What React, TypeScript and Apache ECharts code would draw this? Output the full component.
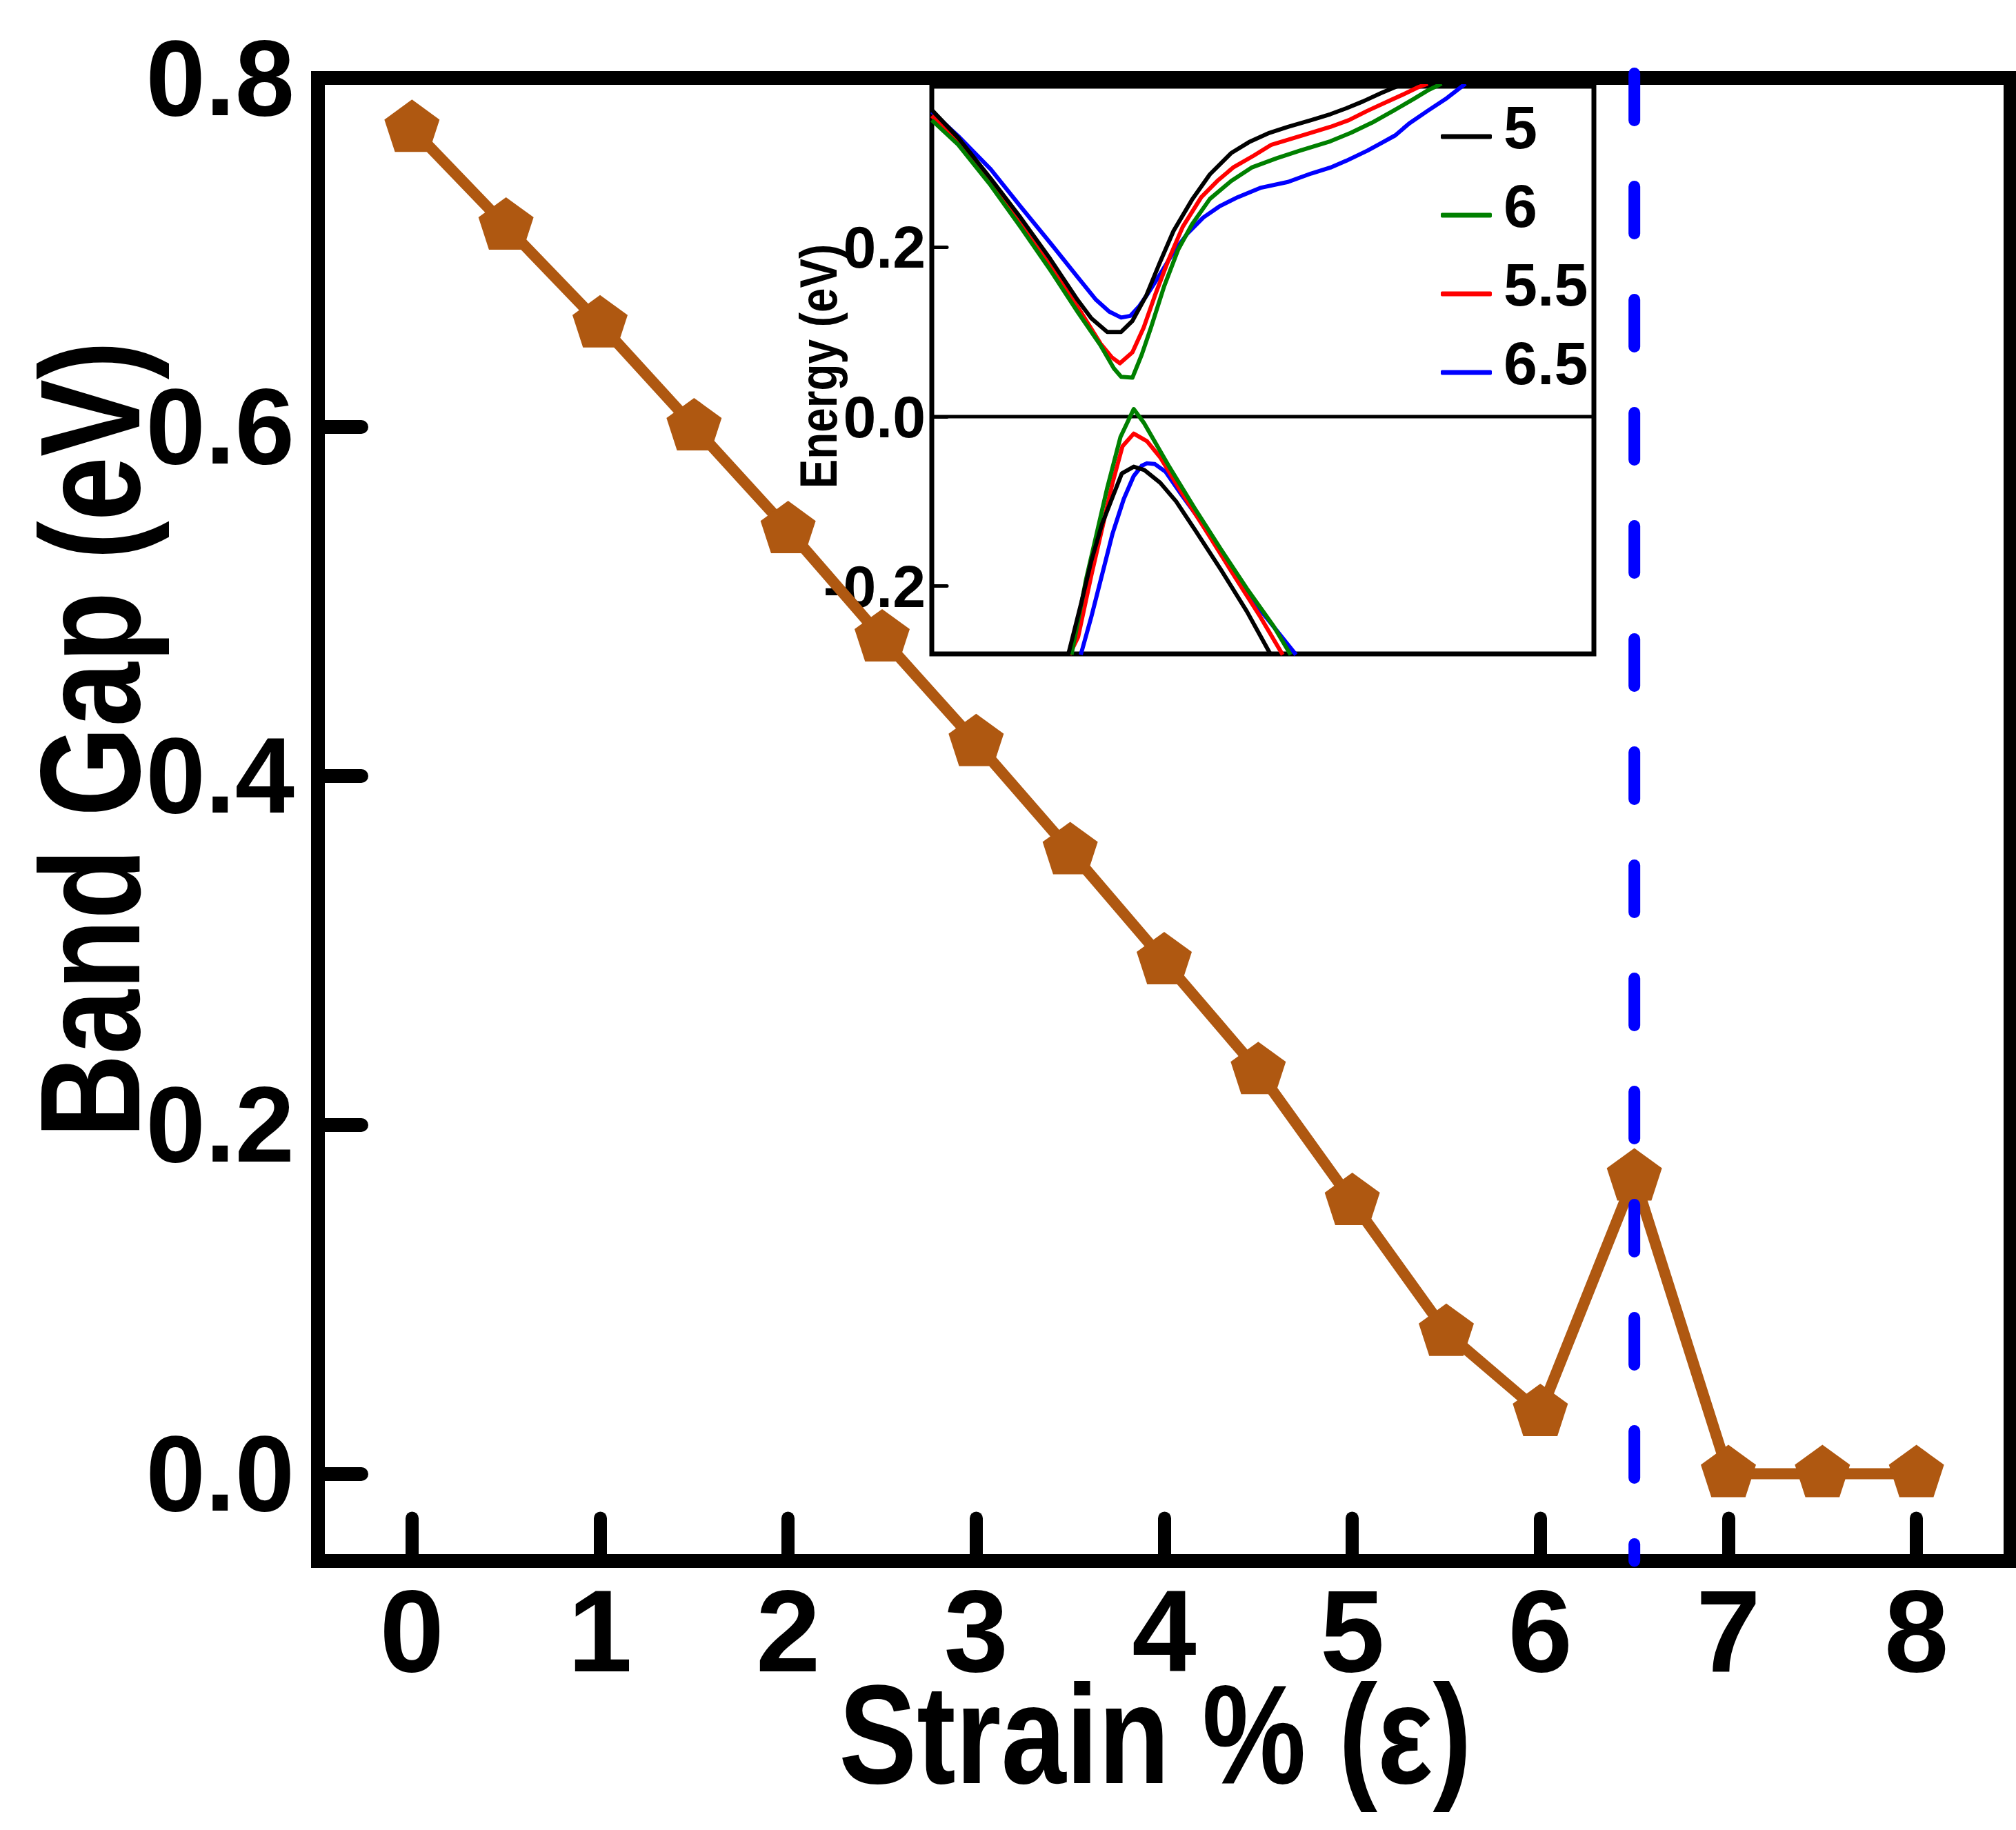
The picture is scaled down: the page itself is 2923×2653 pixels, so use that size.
import React, { useEffect, useRef } from 'react';
import * as echarts from 'echarts';

// ---------- main plot data ----------
const strainValues = [0, 0.5, 1, 1.5, 2, 2.5, 3, 3.5, 4, 4.5, 5, 5.5, 6, 6.5, 7, 7.5, 8];
const bandGapValues = [0.771, 0.715, 0.659, 0.6, 0.541, 0.479, 0.419, 0.357, 0.294, 0.231, 0.156, 0.081, 0.035, 0.17, 0, 0, 0];
const xTickValues = [0, 1, 2, 3, 4, 5, 6, 7, 8];
const yTickValues = [0, 0.2, 0.4, 0.6, 0.8];
const criticalStrain = 6.5;
const xRange = [-0.5, 8.5];
const yRange = [-0.05, 0.8];
const xTitle = 'Strain % (ε)';
const yTitle = 'Band Gap (eV)';

// ---------- inset (band structure near the Fermi level) ----------
const insetTickValues = [-0.2, 0, 0.2];
const insetYRange = [-0.28, 0.39];
const insetKRange = [0, 100];
const insetLegend = ['5', '6', '5.5', '6.5'];
const insetYTitle = 'Energy (eV)';

const cb5 = [[0, 0.362], [4.0, 0.329], [8.9, 0.281], [13.4, 0.235], [17.9, 0.186], [22.0, 0.138], [24.1, 0.116], [26.5, 0.1], [28.6, 0.1], [30.3, 0.113], [32.4, 0.143], [34.4, 0.181], [36.5, 0.219], [39.3, 0.256], [42.0, 0.286], [45.2, 0.311], [47.9, 0.324], [51.0, 0.335], [53.8, 0.342], [57.3, 0.35], [60.2, 0.357], [62.6, 0.364], [65.1, 0.372], [67.9, 0.382], [70.0, 0.389], [71.4, 0.393]];
const vb5 = [[20.6, -0.281], [22.6, -0.219], [24.1, -0.17], [25.7, -0.127], [27.3, -0.095], [28.7, -0.067], [30.5, -0.059], [32.1, -0.063], [34.5, -0.078], [36.9, -0.1], [39.7, -0.133], [43.7, -0.181], [47.6, -0.23], [51.2, -0.281]];

const cb55 = [[0, 0.355], [4.0, 0.324], [8.9, 0.275], [13.4, 0.227], [17.9, 0.178], [22.0, 0.13], [25.5, 0.086], [27.2, 0.07], [28.4, 0.063], [30.3, 0.076], [32.0, 0.105], [33.7, 0.143], [35.8, 0.186], [37.9, 0.224], [40.7, 0.259], [43.1, 0.278], [45.5, 0.294], [48.6, 0.308], [51.3, 0.321], [55.6, 0.331], [60.2, 0.342], [63.0, 0.35], [65.8, 0.361], [68.6, 0.371], [71.4, 0.381], [73.5, 0.389], [74.9, 0.393]];
const vb55 = [[20.8, -0.281], [22.1, -0.26], [24.1, -0.187], [25.7, -0.133], [27.3, -0.078], [28.8, -0.035], [30.5, -0.02], [32.5, -0.029], [34.5, -0.048], [37.7, -0.089], [41.7, -0.138], [45.6, -0.187], [49.6, -0.236], [53.0, -0.281]];

const cb6 = [[0, 0.35], [4.0, 0.321], [8.9, 0.273], [13.4, 0.224], [17.9, 0.173], [22.0, 0.124], [25.5, 0.084], [27.5, 0.057], [28.6, 0.047], [30.3, 0.046], [31.7, 0.073], [33.1, 0.105], [35.1, 0.154], [37.2, 0.197], [39.3, 0.227], [42.0, 0.257], [45.2, 0.278], [48.3, 0.294], [52.1, 0.305], [55.6, 0.314], [60.2, 0.325], [63.3, 0.335], [66.5, 0.347], [69.7, 0.361], [72.8, 0.375], [74.9, 0.385], [77.0, 0.393]];
const vb6 = [[21.1, -0.281], [23.3, -0.192], [24.9, -0.138], [26.5, -0.084], [28.5, -0.024], [30.5, 0.009], [32.1, -0.008], [35.7, -0.057], [39.7, -0.108], [43.7, -0.157], [47.6, -0.203], [51.6, -0.247], [54.2, -0.281]];

const cb65 = [[0, 0.36], [4.0, 0.331], [8.9, 0.292], [13.4, 0.248], [17.9, 0.205], [22.0, 0.165], [24.8, 0.138], [26.8, 0.124], [28.6, 0.117], [30.0, 0.119], [31.3, 0.13], [32.7, 0.146], [34.4, 0.167], [36.5, 0.194], [38.6, 0.216], [41.0, 0.235], [43.4, 0.248], [46.2, 0.259], [49.6, 0.27], [53.8, 0.277], [57.3, 0.287], [60.2, 0.294], [62.6, 0.302], [65.8, 0.314], [67.9, 0.323], [70.0, 0.332], [72.1, 0.346], [74.9, 0.361], [77.8, 0.376], [80.6, 0.393]];
const vb65 = [[22.5, -0.281], [24.1, -0.236], [25.7, -0.187], [27.3, -0.138], [29.0, -0.097], [30.5, -0.07], [31.7, -0.058], [32.5, -0.055], [33.7, -0.056], [35.3, -0.065], [37.7, -0.092], [41.7, -0.135], [45.6, -0.181], [49.6, -0.228], [55.0, -0.281]];

const insetBands = [
  { name: '6.5', color: '#0000FF', cb: cb65, vb: vb65 },
  { name: '5.5', color: '#FF0000', cb: cb55, vb: vb55 },
  { name: '6', color: '#008000', cb: cb6, vb: vb6 },
  { name: '5', color: '#000000', cb: cb5, vb: vb5 },
];

const FONT = '"Liberation Sans", Arial, sans-serif';
const BROWN = '#AF5811';
const PENTAGON = 'path://M0,-1L0.951,-0.309L0.588,0.809L-0.588,0.809L-0.951,-0.309Z';

function titleText(text: string, x: number, y: number, size: number, rotate: boolean, sx: number) {
  return {
    type: 'text',
    x,
    y,
    rotation: rotate ? Math.PI / 2 : 0,
    scaleX: sx,
    silent: true,
    z: 10,
    style: {
      text,
      fontFamily: FONT,
      fontWeight: 'bold',
      fontSize: size,
      fill: '#000',
      align: 'center',
      verticalAlign: 'middle',
    },
  };
}

function buildOption(): any {
  const bandSeries: any[] = [];
  insetBands.forEach((b) => {
    [b.cb, b.vb].forEach((d) => {
      bandSeries.push({
        type: 'line',
        name: b.name,
        xAxisIndex: 1,
        yAxisIndex: 1,
        data: d,
        symbol: 'none',
        smooth: false,
        lineStyle: { color: b.color, width: 6, join: 'round' },
        itemStyle: { color: b.color },
        z: 3,
        silent: true,
      });
    });
  });

  return {
    animation: false,
    backgroundColor: '#ffffff',
    grid: [
      {
        left: 461,
        top: 113,
        right: 8,
        bottom: 390,
        show: true,
        borderColor: '#000',
        borderWidth: 20,
        backgroundColor: 'transparent',
        containLabel: false,
        outerBoundsMode: 'none',
      },
      {
        left: 1351,
        top: 125,
        width: 960,
        height: 823,
        show: true,
        borderColor: '#000',
        borderWidth: 7,
        backgroundColor: '#ffffff',
        containLabel: false,
        outerBoundsMode: 'none',
      },
    ],
    xAxis: [
      {
        type: 'value',
        gridIndex: 0,
        min: xRange[0],
        max: xRange[1],
        axisLine: { show: false, onZero: false },
        splitLine: { show: false },
        axisTick: {
          show: true,
          inside: true,
          length: 62,
          customValues: xTickValues,
          lineStyle: { color: '#000', width: 19, cap: 'round' },
        },
        axisLabel: {
          show: true,
          customValues: xTickValues,
          margin: 18,
          fontFamily: FONT,
          fontWeight: 'bold',
          fontSize: 168,
          color: '#000',
          formatter: (v: number) => String(v),
        },
      },
      {
        type: 'value',
        gridIndex: 1,
        min: insetKRange[0],
        max: insetKRange[1],
        axisLine: { show: false, onZero: false },
        axisTick: { show: false },
        axisLabel: { show: false },
        splitLine: { show: false },
      },
    ],
    yAxis: [
      {
        type: 'value',
        gridIndex: 0,
        min: yRange[0],
        max: yRange[1],
        axisLine: { show: false, onZero: false },
        splitLine: { show: false },
        axisTick: {
          show: true,
          inside: true,
          length: 63,
          customValues: yTickValues,
          lineStyle: { color: '#000', width: 20, cap: 'round' },
        },
        axisLabel: {
          show: true,
          customValues: yTickValues,
          margin: 34,
          fontFamily: FONT,
          fontWeight: 'bold',
          fontSize: 155,
          color: '#000',
          formatter: (v: number) => v.toFixed(1),
        },
      },
      {
        type: 'value',
        gridIndex: 1,
        min: insetYRange[0],
        max: insetYRange[1],
        axisLine: { show: false, onZero: false },
        splitLine: { show: false },
        axisTick: {
          show: true,
          inside: true,
          length: 22,
          customValues: insetTickValues,
          lineStyle: { color: '#000', width: 5, cap: 'round' },
        },
        axisLabel: {
          show: true,
          customValues: insetTickValues,
          margin: 9,
          fontFamily: FONT,
          fontWeight: 'bold',
          fontSize: 86,
          color: '#000',
          formatter: (v: number) => v.toFixed(1),
        },
      },
    ],
    legend: {
      show: true,
      data: insetLegend,
      orient: 'vertical',
      left: 2089,
      top: 140,
      padding: 0,
      itemWidth: 74,
      itemHeight: 7,
      itemGap: -2,
      icon: 'roundRect',
      selectedMode: false,
      formatter: '{t|{name}}',
      textStyle: {
        rich: {
          t: {
            fontFamily: FONT,
            fontWeight: 'bold',
            fontSize: 88,
            color: '#000',
            lineHeight: 76,
            padding: [0, 0, 28, 12],
          },
        },
      },
    },
    graphic: [
      titleText(yTitle, 130, 1072, 207, true, 0.81),
      titleText(xTitle, 1675, 2514, 204, false, 0.83),
      titleText(insetYTitle, 1186, 531, 76, true, 0.84),
    ],
    series: [
      {
        type: 'line',
        name: 'Band Gap',
        xAxisIndex: 0,
        yAxisIndex: 0,
        data: strainValues.map((x, i) => [x, bandGapValues[i]]),
        symbol: PENTAGON,
        symbolSize: [80, 76],
        symbolOffset: [0, -4],
        showAllSymbol: true,
        lineStyle: { color: BROWN, width: 16 },
        itemStyle: { color: BROWN },
        z: 2,
        silent: true,
      },
      {
        type: 'line',
        name: 'critical',
        xAxisIndex: 0,
        yAxisIndex: 0,
        data: [[criticalStrain, yRange[1] + 0.0026], [criticalStrain, yRange[0]]],
        symbol: 'none',
        clip: false,
        lineStyle: { color: '#0000FF', width: 17, type: [68, 96], cap: 'round' },
        z: 4,
        silent: true,
      },
      {
        type: 'line',
        name: 'EF',
        xAxisIndex: 1,
        yAxisIndex: 1,
        data: [[insetKRange[0], 0], [insetKRange[1], 0]],
        symbol: 'none',
        lineStyle: { color: '#000', width: 5 },
        z: 2,
        silent: true,
      },
      ...bandSeries,
    ],
  };
}

export default function App() {
  const ref = useRef<HTMLDivElement>(null);
  useEffect(() => {
    if (!ref.current) return;
    const chart = echarts.init(ref.current, null, { renderer: 'svg' });
    chart.setOption(buildOption());
    return () => {
      chart.dispose();
    };
  }, []);
  return (
    <div
      ref={ref}
      style={{ position: 'absolute', left: 0, top: 0, width: 2923, height: 2653, background: '#ffffff' }}
    />
  );
}
